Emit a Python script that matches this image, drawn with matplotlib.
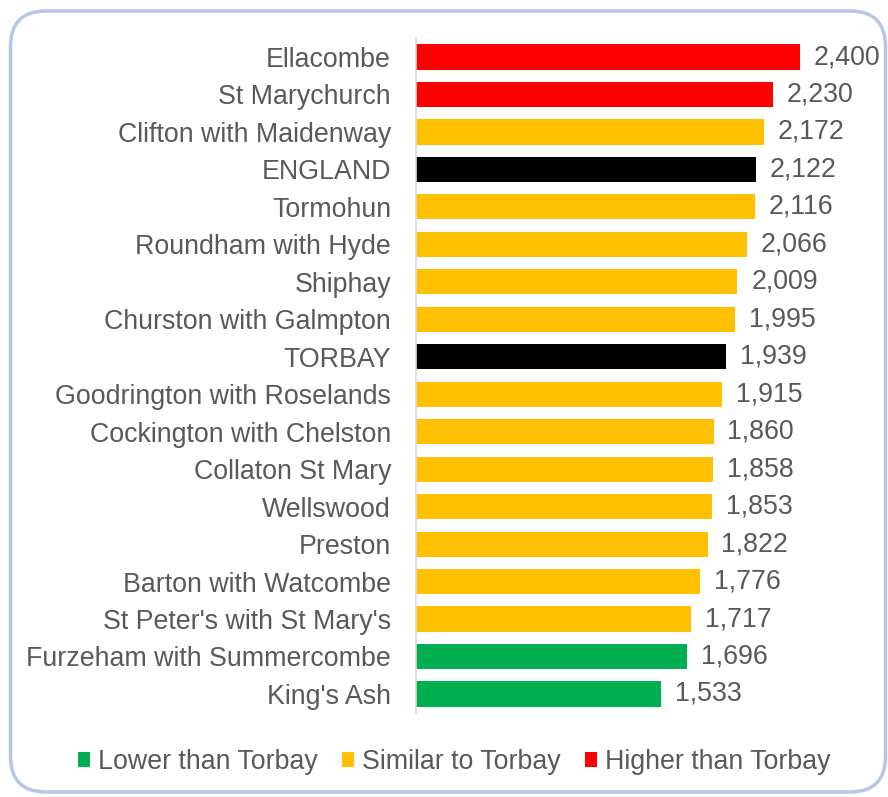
import matplotlib
matplotlib.use("Agg")
import matplotlib.pyplot as plt
from matplotlib.patches import FancyBboxPatch, Patch

plt.rcParams['font.family'] = ['Liberation Sans', 'DejaVu Sans']

areas = ["Ellacombe", "St Marychurch", "Clifton with Maidenway", "ENGLAND", "Tormohun",
         "Roundham with Hyde", "Shiphay", "Churston with Galmpton", "TORBAY",
         "Goodrington with Roselands", "Cockington with Chelston", "Collaton St Mary",
         "Wellswood", "Preston", "Barton with Watcombe", "St Peter's with St Mary's",
         "Furzeham with Summercombe", "King's Ash"]
values = [2400, 2230, 2172, 2122, 2116, 2066, 2009, 1995, 1939, 1915, 1860, 1858,
          1853, 1822, 1776, 1717, 1696, 1533]
groups = ["higher", "higher", "similar", "benchmark", "similar", "similar", "similar",
          "similar", "benchmark", "similar", "similar", "similar", "similar", "similar",
          "similar", "similar", "lower", "lower"]

palette = {"lower": "#00B050", "similar": "#FFC000", "higher": "#FF0000", "benchmark": "#000000"}
legend_labels = [("lower", "Lower than Torbay"), ("similar", "Similar to Torbay"),
                 ("higher", "Higher than Torbay")]
text_color = "#595959"
fs = 19.3

W, H = 888, 797
fig = plt.figure(figsize=(W / 100, H / 100), dpi=100)

# rounded chart-area border
frame = FancyBboxPatch((10.5 / W, 5 / H), (W - 13) / W, (H - 16) / H,
                       boxstyle="round,pad=0,rounding_size=0.04",
                       transform=fig.transFigure, facecolor="white",
                       edgecolor="#B4C7E7", linewidth=2.5, zorder=-5,
                       mutation_aspect=W / H)
fig.patches.append(frame)

left, right = 416, 880
top, bottom = 38.3, 712.7
ax = fig.add_axes([left / W, (H - bottom) / H, (right - left) / W, (bottom - top) / H])
ax.set_facecolor("none")
ax.set_zorder(2)

ypos = list(range(len(areas)))
colors = [palette[g] for g in groups]
bars = ax.barh(ypos, values, height=0.67, color=colors, zorder=2)
ax.set_ylim(len(areas) - 0.5, -0.5)
ax.set_xlim(0, (right - left) / 0.16)

for b, v in zip(bars, values):
    ax.annotate(f"{v:,}", (b.get_width(), b.get_y() + b.get_height() / 2),
                xytext=(10, 0), textcoords="offset points",
                va="center", ha="left", fontsize=fs, color=text_color)

ax.set_yticks(ypos)
ax.set_yticklabels(areas, fontsize=fs, color=text_color)
ax.tick_params(axis="y", length=0, pad=18)
ax.set_xticks([])
for s in ["top", "right", "bottom"]:
    ax.spines[s].set_visible(False)
ax.spines["left"].set_color("#D9D9D9")
ax.spines["left"].set_linewidth(1.2)

handles = [Patch(facecolor=palette[k], edgecolor="none", label=lbl) for k, lbl in legend_labels]
leg = fig.legend(handles=handles, loc="center", bbox_to_anchor=(454 / W, 1 - 762 / H),
                 ncol=3, frameon=False, fontsize=fs, handlelength=0.45, handleheight=0.45,
                 handletextpad=0.3, columnspacing=0.9)
for t in leg.get_texts():
    t.set_color(text_color)

fig.savefig("out.png", dpi=100)
